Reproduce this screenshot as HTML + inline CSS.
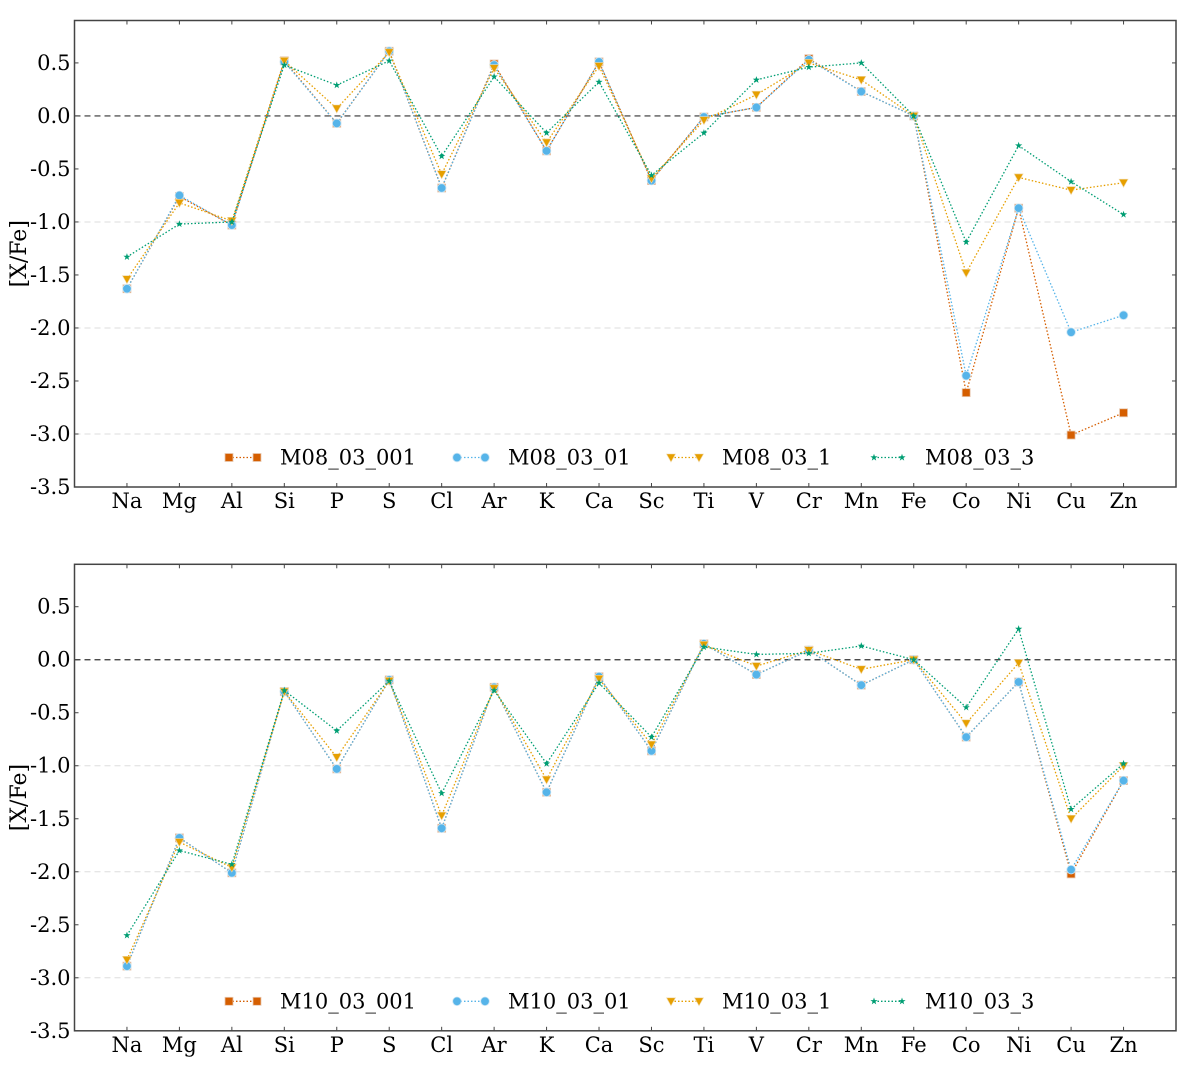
<!DOCTYPE html>
<html><head><meta charset="utf-8"><style>
html,body{margin:0;padding:0;background:#fff}
svg{display:block}
text{font-family:"DejaVu Serif","Liberation Serif",serif;fill:#000}
</style></head><body>
<svg id="chart" width="1200" height="1075" viewBox="0 0 1200 1075"></svg>
<script>
const elements = ["Na","Mg","Al","Si","P","S","Cl","Ar","K","Ca","Sc","Ti","V","Cr","Mn","Fe","Co","Ni","Cu","Zn"];
const yTicks = [0.5,0.0,-0.5,-1.0,-1.5,-2.0,-2.5,-3.0,-3.5];
const yTickLabels = ["0.5","0.0","-0.5","-1.0","-1.5","-2.0","-2.5","-3.0","-3.5"];
const gridValues = [-1,-2,-3];
const topNames = ["M08_03_001","M08_03_01","M08_03_1","M08_03_3"];
const bottomNames = ["M10_03_001","M10_03_01","M10_03_1","M10_03_3"];
const m08_001 = [-1.63,-0.76,-1.03,0.52,-0.07,0.61,-0.68,0.49,-0.33,0.51,-0.61,-0.01,0.08,0.54,0.23,0,-2.61,-0.87,-3.01,-2.80];
const m08_01  = [-1.63,-0.75,-1.03,0.51,-0.07,0.61,-0.68,0.48,-0.33,0.51,-0.61,-0.01,0.08,0.53,0.23,0,-2.45,-0.87,-2.04,-1.88];
const m08_1   = [-1.54,-0.82,-0.99,0.52,0.07,0.60,-0.55,0.45,-0.25,0.47,-0.59,-0.04,0.20,0.50,0.34,0,-1.48,-0.58,-0.70,-0.63];
const m08_3   = [-1.33,-1.02,-1.00,0.48,0.29,0.52,-0.38,0.37,-0.16,0.32,-0.56,-0.16,0.34,0.46,0.50,0,-1.19,-0.28,-0.62,-0.93];
const m10_001 = [-2.89,-1.68,-2.01,-0.30,-1.03,-0.19,-1.59,-0.26,-1.25,-0.16,-0.86,0.15,-0.14,0.09,-0.24,0,-0.73,-0.21,-2.02,-1.14];
const m10_01  = [-2.89,-1.68,-2.01,-0.30,-1.03,-0.19,-1.59,-0.26,-1.25,-0.16,-0.86,0.15,-0.14,0.09,-0.24,0,-0.73,-0.21,-1.98,-1.14];
const m10_1   = [-2.83,-1.72,-1.96,-0.30,-0.92,-0.20,-1.47,-0.27,-1.13,-0.18,-0.80,0.14,-0.06,0.09,-0.09,0,-0.60,-0.03,-1.50,-1.00];
const m10_3   = [-2.60,-1.80,-1.93,-0.29,-0.67,-0.20,-1.26,-0.29,-0.98,-0.22,-0.73,0.12,0.05,0.06,0.13,0,-0.45,0.29,-1.41,-0.98];

const NS="http://www.w3.org/2000/svg";
const svg=document.getElementById('chart');
const colors=["#d55e00","#56b4e9","#e69f00","#009e73"];
const markers=["square","circle","tri","star"];
function mk(tag,attrs,parent){const e=document.createElementNS(NS,tag);for(const k in attrs)e.setAttribute(k,attrs[k]);(parent||svg).appendChild(e);return e;}
function marker(type,x,y,color,g){
  let e;
  if(type==="square") e=mk('rect',{x:x-4,y:y-4,width:8,height:8,fill:color,stroke:"#e8c8b0","stroke-width":0.8},g);
  else if(type==="circle") e=mk('circle',{cx:x,cy:y,r:4.3,fill:color,stroke:"#c8e4f4","stroke-width":0.8},g);
  else if(type==="tri") e=mk('polygon',{points:`${x-4.5},${y-3.5} ${x+4.5},${y-3.5} ${x},${y+4.5}`,fill:color,stroke:"#f0d8a8","stroke-width":0.6},g);
  else {let p=[];for(let i=0;i<10;i++){const r=i%2?1.5:3.8;const a=-Math.PI/2+i*Math.PI/5;p.push((x+r*Math.cos(a)).toFixed(2)+","+(y+r*Math.sin(a)).toFixed(2));}
    e=mk('polygon',{points:p.join(" "),fill:color},g);}
  return e;
}
function panel(top,names,series,id){
  const L=74.5,R=1176,T=top,B=top+466.5;
  const x=i=>L+(i+1)*(R-L)/21;
  const y=v=>T+(0.9-v)*(B-T)/4.4;
  const g=mk('g',{});
  
  
  gridValues.forEach(v=>{const l=mk('line',{x1:L,x2:R,y1:y(v),y2:y(v),stroke:"#dddddd","stroke-width":1,"stroke-dasharray":"6,4"},g);
    });
  const z=mk('line',{x1:L,x2:R,y1:y(0),y2:y(0),stroke:"#333","stroke-width":1.2,"stroke-dasharray":"6,4"},g);
  
  series.forEach((s,k)=>{
    const sg=mk('g',{},g);
    
    
    mk('polyline',{points:s.map((v,i)=>x(i)+","+y(v)).join(" "),fill:"none",stroke:colors[k],"stroke-width":1.3,"stroke-dasharray":"1.5,2"},sg);
    s.forEach((v,i)=>{const m=marker(markers[k],x(i),y(v),colors[k],sg);});
  });
  const fr=mk('rect',{x:L,y:T,width:R-L,height:B-T,fill:"none",stroke:"#444","stroke-width":1.5},g);
  
  elements.forEach((el,i)=>{
    mk('line',{x1:x(i),x2:x(i),y1:B,y2:B-4,stroke:"#444"},g);
    mk('line',{x1:x(i),x2:x(i),y1:T,y2:T+4,stroke:"#444"},g);
    const t=mk('text',{x:x(i),y:B+21,"text-anchor":"middle","font-size":21},g);t.textContent=el;
    
  });
  yTicks.forEach((v,i)=>{
    mk('line',{x1:L,x2:L+4,y1:y(v),y2:y(v),stroke:"#444"},g);
    mk('line',{x1:R,x2:R-4,y1:y(v),y2:y(v),stroke:"#444"},g);
    const t=mk('text',{x:L-4,y:y(v)+7,"text-anchor":"end","font-size":21},g);t.textContent=yTickLabels[i];
    
  });
  const yl=mk('text',{x:0,y:0,transform:`translate(26,${(T+B)/2}) rotate(-90)`,"text-anchor":"middle","font-size":22},g);
  yl.textContent="[X/Fe]";
  const lx=[225,453,667,870], ly=T+437;
  names.forEach((n,k)=>{
    const lg=mk('g',{},g);
    
    
    mk('line',{x1:lx[k]+4,x2:lx[k]+32,y1:ly,y2:ly,stroke:colors[k],"stroke-width":1.3,"stroke-dasharray":"1.5,2"},lg);
    marker(markers[k],lx[k]+4,ly,colors[k],lg);marker(markers[k],lx[k]+32,ly,colors[k],lg);
    const t=mk('text',{x:lx[k]+55,y:ly+7,"font-size":21},lg);t.textContent=n;
  });
}
panel(20.5,topNames,[m08_001,m08_01,m08_1,m08_3],'top');
panel(564.3,bottomNames,[m10_001,m10_01,m10_1,m10_3],'bottom');
</script>
</body></html>
